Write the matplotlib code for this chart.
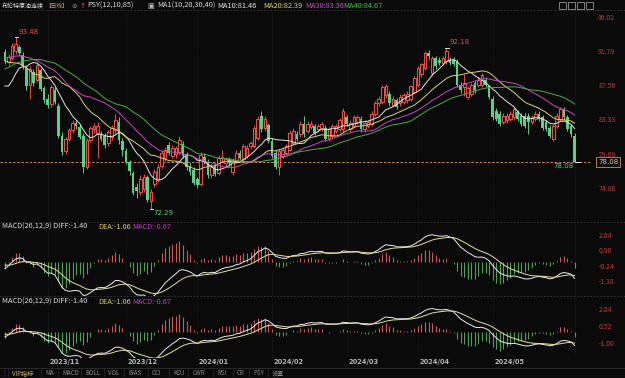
import numpy as np
import pandas as pd
import matplotlib
matplotlib.use("Agg")
import matplotlib.pyplot as plt
import matplotlib.transforms as mtransforms
from matplotlib.lines import Line2D
from matplotlib.patches import Rectangle

plt.rcParams['font.family'] = ['Noto Sans CJK SC', 'DejaVu Sans']

# closes before the visible window, only used to warm up the MA / MACD lines
prior_close = [83.45, 84.12, 84.80, 84.46, 83.03, 83.21, 83.36, 84.48, 84.42, 85.49,
               85.86, 86.86, 88.55, 88.00, 90.04, 90.60, 89.92, 90.65, 90.64, 92.06,
               91.88, 93.70, 93.93, 94.43, 94.34, 93.53, 93.30, 93.27, 93.29, 93.96,
               96.55, 95.38, 92.20, 90.71, 90.92, 85.81, 84.07, 84.58, 88.15, 87.65,
               85.82, 86.00, 90.89]

open_ = [91.7, 90.4, 90.9, 91.8, 92.2, 91.3, 89.7, 87.6, 89.2, 88.2,
         89.4, 87.2, 85.9, 85.2, 87.0, 85.0, 81.3, 79.4, 80.9, 82.0,
         82.9, 82.4, 81.3, 77.5, 80.8, 82.1, 81.7, 81.5, 81.3, 80.4,
         81.1, 82.0, 83.0, 80.6, 79.4, 78.0, 76.7, 75.0, 74.3, 74.7,
         76.2, 73.3, 75.4, 76.0, 77.6, 78.5, 80.2, 78.8, 79.0, 79.3,
         80.3, 79.0, 77.5, 77.1, 75.9, 75.4, 78.7, 78.0, 76.4, 77.6,
         76.7, 78.5, 77.9, 78.4, 76.8, 78.2, 79.2, 78.4, 78.8, 80.0,
         80.0, 81.0, 83.8, 82.2, 82.6, 80.7, 79.2, 77.5, 78.8, 79.2,
         79.6, 80.4, 81.5, 81.5, 82.8, 81.9, 82.4, 82.5, 82.1, 82.2,
         82.3, 80.9, 81.3, 81.9, 82.1, 82.1, 83.6, 82.1, 82.5, 83.0,
         83.4, 82.1, 82.5, 82.8, 84.0, 85.3, 85.5, 86.3, 86.5, 85.1,
         85.7, 85.3, 85.5, 85.7, 85.9, 86.7, 87.6, 88.9, 89.7, 91.5,
         89.0, 90.9, 90.7, 90.3, 90.5, 90.7, 90.7, 90.5, 87.6, 87.3,
         86.1, 86.5, 87.8, 87.6, 87.6, 88.2, 87.4, 85.9, 84.4, 84.0,
         83.0, 83.2, 83.4, 83.6, 84.2, 83.8, 83.8, 83.8, 83.0, 83.4,
         84.0, 83.6, 83.0, 82.3, 80.9, 82.5, 83.4, 84.6, 83.6, 82.5,
         81.3]
high = [92.0, 91.4, 92.7, 93.48, 92.5, 91.6, 90.0, 89.9, 89.6, 90.4,
        89.7, 87.5, 86.4, 87.6, 87.3, 85.4, 81.8, 81.2, 82.3, 83.2,
        83.3, 82.7, 81.6, 81.0, 82.5, 82.9, 83.0, 81.9, 81.6, 82.0,
        82.6, 84.0, 83.6, 81.0, 79.8, 78.3, 77.0, 75.5, 76.4, 76.6,
        76.5, 74.7, 77.2, 77.8, 79.5, 79.9, 80.5, 80.1, 80.0, 81.3,
        80.7, 79.3, 77.9, 77.4, 76.2, 79.3, 79.2, 78.4, 77.8, 77.9,
        78.9, 79.6, 78.7, 78.7, 78.6, 79.5, 79.5, 80.3, 80.1, 80.7,
        82.6, 83.7, 84.3, 83.7, 82.9, 81.0, 79.5, 79.7, 79.9, 80.3,
        82.0, 82.2, 81.9, 83.1, 83.8, 83.1, 83.1, 82.8, 82.8, 83.0,
        82.6, 82.4, 82.8, 82.8, 83.5, 84.7, 83.9, 83.2, 83.9, 83.9,
        83.7, 83.2, 83.3, 84.3, 85.6, 86.2, 87.6, 87.7, 86.8, 86.2,
        86.0, 86.4, 86.6, 86.8, 87.6, 88.7, 89.9, 90.3, 91.8, 91.9,
        91.2, 91.2, 91.0, 91.2, 92.18, 91.0, 91.0, 90.8, 87.9, 88.9,
        87.4, 87.8, 88.1, 88.5, 89.1, 88.5, 87.6, 86.2, 84.7, 84.3,
        84.1, 84.1, 84.3, 84.9, 84.5, 84.1, 84.1, 84.1, 83.9, 84.3,
        84.3, 83.9, 83.3, 82.6, 82.8, 84.1, 84.9, 84.9, 83.9, 82.8,
        81.6]
low = [90.2, 90.0, 90.6, 91.4, 91.2, 89.6, 87.0, 85.9, 87.4, 87.9,
       86.8, 85.4, 84.7, 84.9, 85.2, 81.0, 78.9, 79.1, 80.6, 81.7,
       82.1, 80.9, 76.7, 77.2, 80.5, 81.6, 78.6, 80.6, 79.8, 80.0,
       80.8, 81.7, 80.3, 78.8, 77.8, 76.5, 74.0, 73.6, 74.0, 74.3,
       73.1, 72.29, 75.0, 75.6, 77.3, 78.2, 78.9, 78.5, 78.6, 79.0,
       78.5, 77.1, 76.5, 75.2, 74.8, 75.1, 77.8, 76.1, 76.1, 76.3,
       76.4, 78.1, 77.6, 77.6, 76.4, 77.9, 78.3, 78.1, 78.5, 79.7,
       79.8, 80.8, 81.8, 81.9, 80.4, 78.5, 77.2, 76.5, 78.5, 78.9,
       79.4, 80.1, 80.6, 81.2, 81.2, 81.6, 82.1, 81.4, 81.8, 81.9,
       80.6, 80.6, 81.0, 81.6, 81.8, 81.8, 82.5, 81.8, 82.2, 82.7,
       81.8, 81.8, 82.2, 82.5, 83.7, 85.0, 85.2, 86.0, 85.0, 84.8,
       84.6, 85.0, 85.2, 85.4, 85.6, 86.4, 87.3, 88.6, 89.4, 90.8,
       88.7, 89.6, 90.0, 90.0, 90.2, 90.0, 89.9, 87.3, 86.6, 86.2,
       85.8, 86.2, 86.6, 87.3, 87.3, 87.3, 85.8, 83.3, 83.1, 82.5,
       82.7, 82.9, 83.1, 83.3, 83.1, 82.5, 82.3, 81.5, 82.7, 83.1,
       83.1, 82.0, 81.9, 81.0, 80.7, 82.3, 83.1, 83.3, 81.9, 81.2,
       78.08]
close = [90.5, 91.0, 92.4, 92.6, 91.5, 89.9, 87.4, 89.5, 87.8, 90.0,
         87.1, 85.7, 85.1, 87.3, 85.5, 81.3, 79.3, 80.9, 82.0, 82.9,
         82.5, 81.2, 77.5, 80.8, 82.2, 82.5, 82.5, 80.9, 80.2, 81.8,
         82.3, 83.3, 80.8, 79.5, 78.1, 76.9, 74.2, 74.5, 76.0, 76.2,
         73.4, 74.4, 76.8, 77.5, 79.2, 79.6, 79.2, 79.8, 79.8, 80.8,
         78.8, 77.4, 76.8, 75.5, 75.2, 78.9, 78.1, 76.4, 77.5, 76.6,
         78.6, 78.7, 78.4, 77.9, 78.3, 79.2, 78.6, 80.0, 79.8, 80.4,
         82.3, 83.4, 82.1, 83.4, 80.7, 78.8, 77.5, 79.4, 79.6, 80.0,
         81.7, 81.9, 80.9, 82.8, 81.5, 82.8, 82.8, 81.7, 82.5, 82.7,
         80.9, 82.1, 82.5, 82.5, 83.2, 84.4, 82.8, 82.9, 83.6, 83.6,
         82.1, 82.9, 83.0, 84.0, 85.3, 85.9, 87.3, 87.4, 85.3, 85.9,
         84.9, 86.1, 86.3, 86.5, 87.4, 88.4, 89.7, 90.1, 91.5, 91.1,
         90.9, 89.9, 90.3, 90.9, 91.8, 90.3, 90.2, 87.6, 86.9, 87.8,
         87.2, 87.6, 86.9, 88.2, 88.8, 87.6, 86.1, 83.6, 83.4, 82.8,
         83.8, 83.8, 84.0, 84.6, 83.4, 82.8, 82.5, 83.0, 83.6, 84.0,
         83.4, 82.3, 82.1, 81.3, 82.5, 83.8, 84.6, 83.6, 82.1, 81.5,
         78.08]

month_idx = [12, 34, 54, 75, 96, 116, 137]
month_labels = ["2023/11", "2023/12", "2024/01", "2024/02", "2024/03", "2024/04", "2024/05"]
grid_idx = month_idx + [160]

price_ticks = [96.02, 91.79, 87.56, 83.33, 79.09, 74.86]
macd1_ticks = [2.04, 0.90, -0.24, -1.38]
macd2_ticks = [2.04, 0.52, -1.00]
last_price = 78.08

ma_periods = [10, 20, 30, 40]
ma_colors = ['#e6e6e6', '#dcd46a', '#c04cc4', '#4cae3c']

BG = '#0a0a0a'
RED = '#e8504c'
GREEN = '#5ad08a'
AXIS_RED = '#c23c3c'
W, H = 625, 378


def fx(x):
    return x / W


def fy(y):
    return 1 - y / H


o = np.array(open_)
h = np.array(high)
l = np.array(low)
c = np.array(close)
idx = np.arange(len(c))
n_prior = len(prior_close)
full = pd.Series(prior_close + close)

fig = plt.figure(figsize=(6.25, 3.78), dpi=100, facecolor=BG)
ax = fig.add_axes([0, fy(222), fx(592), (222 - 10) / H])
m1 = fig.add_axes([0, fy(296), fx(592), (296 - 223) / H])
m2 = fig.add_axes([0, fy(358), fx(592), (358 - 297) / H])

for a in (ax, m1, m2):
    a.set_facecolor(BG)
    for s in a.spines.values():
        s.set_visible(False)
    a.set_xlim(-1.4, 164.9)
    a.set_xticks([])
    a.yaxis.tick_right()
    a.tick_params(axis='y', length=0, pad=4.5, labelsize=5, labelcolor=AXIS_RED)
    for gi in grid_idx:
        a.axvline(gi, color='#262626', lw=0.5, ls=(0, (1, 2)), zorder=0)

# price panel
ax.set_ylim(70.65, 96.83)
ax.set_yticks(price_ticks)
ax.set_yticklabels([f"{v:.2f}" for v in price_ticks])

up = c >= o
ax.vlines(idx, l, h, colors=np.where(up, RED, GREEN), lw=0.7, zorder=2)
body = np.maximum(np.abs(c - o), 0.06)
ax.bar(idx[up], body[up], bottom=o[up], width=0.74, facecolor=BG,
       edgecolor=RED, lw=0.8, zorder=3)
ax.bar(idx[~up], body[~up], bottom=c[~up], width=0.74, color=GREEN, lw=0, zorder=3)

for p, col in zip(ma_periods, ma_colors):
    ma = full.rolling(p).mean().iloc[n_prior:].values
    ax.plot(idx, ma, color=col, lw=0.7, zorder=4)

ax.axhline(last_price, color='#eaa060', lw=0.6, ls=(0, (3, 2)), zorder=1)

# high / low markers
i_hi = int(np.argmax(h))
i_hi2 = 60 + int(np.argmax(h[60:]))
i_lo = int(np.argmin(l))
for i_m in (i_hi, i_hi2):
    ax.plot([i_m - 0.3, i_m + 0.6], [h[i_m], h[i_m]], color='white', lw=0.6, zorder=5)
    ax.text(i_m + 0.8, h[i_m] + 0.3, f"{h[i_m]:.2f}", color='#e05050', fontsize=5,
            ha='left', va='bottom', family='DejaVu Sans')
ax.plot([i_lo - 0.3, i_lo + 0.6], [l[i_lo], l[i_lo]], color='white', lw=0.6, zorder=5)
ax.text(i_lo + 0.8, l[i_lo] - 0.1, f"{l[i_lo]:.2f}", color=GREEN, fontsize=5,
        ha='left', va='top', family='DejaVu Sans')
last_i = len(c) - 1
ax.plot([last_i, last_i + 1.4], [last_price, last_price], color='white', lw=0.6, zorder=5)
ax.text(last_i - 0.3, last_price - 0.15, f"{last_price:.2f}", color=GREEN, fontsize=5,
        ha='right', va='top', family='DejaVu Sans')
trans = mtransforms.blended_transform_factory(ax.transAxes, ax.transData)
ax.text(1.0 + 6 / 592, last_price, f"{last_price:.2f}", transform=trans, color='#e8c49a',
        fontsize=5, ha='left', va='center', family='DejaVu Sans',
        bbox=dict(boxstyle='square,pad=0.25', fc=BG, ec='#c8925e', lw=0.6))

# MACD panels
ema12 = full.ewm(span=12, adjust=False).mean()
ema26 = full.ewm(span=26, adjust=False).mean()
diff = (ema12 - ema26)
dea = diff.ewm(span=9, adjust=False).mean()
hist = (2 * (diff - dea)).iloc[n_prior:].values
diff = diff.iloc[n_prior:].values
dea = dea.iloc[n_prior:].values

for a, ticks, lim in ((m1, macd1_ticks, (-2.5, 2.93)), (m2, macd2_ticks, (-2.3, 3.08))):
    a.set_ylim(*lim)
    a.set_yticks(ticks)
    a.set_yticklabels([f"{v:.2f}" for v in ticks])
    a.vlines(idx, 0, hist, colors=np.where(hist >= 0, '#cc5a5a', '#52a056'), lw=0.8, zorder=2)
    a.plot(idx, diff, color='#ececec', lw=0.7, zorder=3)
    a.plot(idx, dea, color='#e4e0a0', lw=0.7, zorder=3)

# month labels under the last panel, left edge at the month's first candle
tl = mtransforms.blended_transform_factory(m2.transData, fig.transFigure)
for mi, lab in zip(month_idx, month_labels):
    fig.text(mi + 0.5, fy(362), lab, transform=tl, color='#b4b4b4', fontsize=4.8,
             ha='left', va='center', family='DejaVu Sans', weight='bold')

# panel borders
for yy in (10, 222, 296):
    fig.add_artist(Line2D([0, 1], [fy(yy), fy(yy)], color='#3a3a3a', lw=0.6, ls=(0, (2, 2))))
fig.add_artist(Line2D([0, 1], [fy(368), fy(368)], color='#303030', lw=0.6))

# header texts
hdr_y = fy(6)
fig.text(fx(2), hdr_y, "布伦特原油连续", color='#dcdcdc', fontsize=4.3, va='center')
fig.text(fx(45), hdr_y, "【日线】", color='#e8a030', fontsize=4.1, va='center')
fig.text(fx(71), hdr_y, "⊖", color='#9a9a9a', fontsize=4.6, va='center', family='DejaVu Sans')
fig.text(fx(80), hdr_y, "↑", color='#e03030', fontsize=5.2, va='center', family='DejaVu Sans',
         weight='bold')
fig.text(fx(87), hdr_y, "PSY(12,10,85)", color='#dcdcdc', fontsize=5.3, va='center')
fig.text(fx(147), hdr_y, "▣", color='#c0c0c0', fontsize=5.2, va='center', family='DejaVu Sans')
fig.text(fx(157), hdr_y, "MA1(10,20,30,40)", color='#dcdcdc', fontsize=5.3, va='center')
fig.text(fx(217), hdr_y, "MA10:81.46", color=ma_colors[0], fontsize=5.3, va='center')
fig.text(fx(263), hdr_y, "MA20:82.39", color=ma_colors[1], fontsize=5.3, va='center')
fig.text(fx(305), hdr_y, "MA30:83.36", color=ma_colors[2], fontsize=5.3, va='center')
fig.text(fx(343), hdr_y, "MA40:84.67", color='#44c044', fontsize=5.3, va='center')

for k in range(4):
    fig.add_artist(Rectangle((fx(559 + 9 * k), fy(9)), fx(7), 7 / H, fill=False,
                             ec='#b0b0b0', lw=0.5, transform=fig.transFigure))

for yy in (227, 302):
    fig.text(fx(2), fy(yy), "MACD(26,12,9) DIFF:-1.40", color='#dcdcdc', fontsize=5.3, va='center')
    fig.text(fx(98), fy(yy), "DEA:-1.06", color='#d4d05a', fontsize=5.3, va='center')
    fig.text(fx(132), fy(yy), "MACD:-0.67", color='#c040c0', fontsize=5.3, va='center')

# bottom toolbar
tools = ["VIP指标", "MA", "MACD", "BOLL", "VOL", "BIAS", "CCI", "KDJ", "LWR", "RSI", "CR", "PSY", "设置"]
tool_x = [12, 45, 62, 85, 108, 128, 152, 173, 192, 217, 237, 253, 272]
fig.text(fx(3), fy(373), "|", color='#4a4a4a', fontsize=4.5, va='center')
for name, tx in zip(tools, tool_x):
    col = '#d0b060' if name == "VIP指标" else '#8c8c8c'
    fig.text(fx(tx), fy(373), name, color=col, fontsize=4.4, va='center')
    fig.text(fx(tx - 5), fy(373), "|", color='#4a4a4a', fontsize=4.5, va='center')

fig.savefig("out.png", dpi=100, facecolor=BG)
